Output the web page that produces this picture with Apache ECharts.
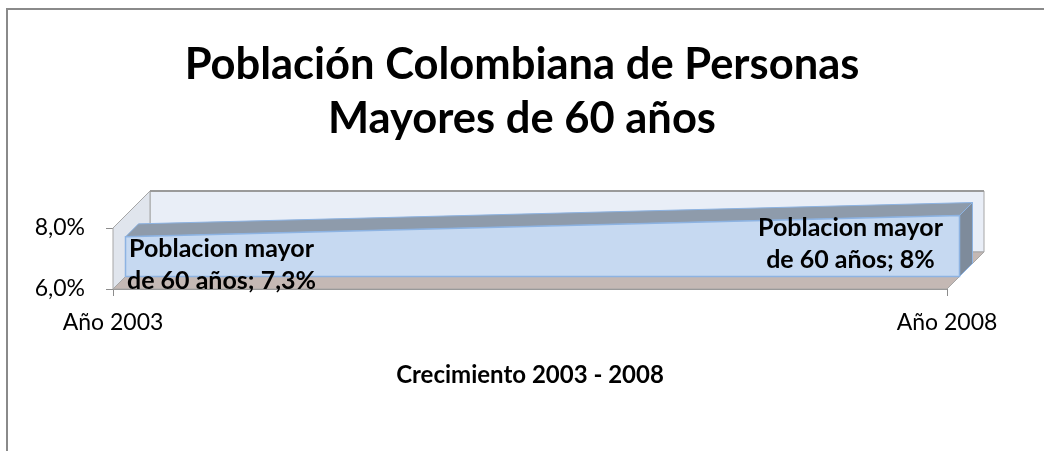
<!DOCTYPE html>
<html>
<head>
<meta charset="utf-8">
<script src="https://cdn.jsdelivr.net/npm/echarts@6/dist/echarts.min.js"></script>
<style>
  html, body { margin: 0; padding: 0; background: #fff; }
  #chart { width: 1044px; height: 451px; }
</style>
</head>
<body>
<div id="chart"></div>
<script>
// Chart values
const categories = ['Año 2003', 'Año 2008'];
const seriesName = 'Poblacion mayor de 60 años';
const values = [7.3, 8];
const yMin = 6;
const yMax = 8;
const yInterval = 2;

const FONT = 'Lato, "Open Sans", sans-serif';

// Depth of the pseudo-3D box and of the area slab inside it (px)
const DEPTH = 37;
const SLAB_FRONT = 12.5;
const SLAB_BACK = 25.5;

function pct(v, digits) {
  const s = digits == null ? String(v) : v.toFixed(digits);
  return s.replace('.', ',') + '%';
}
function off(p, d) { return [p[0] + d, p[1] - d]; }

// Segments between consecutive points of the area
const segments = values.slice(0, -1).map((v, i) => [i, v, i + 1, values[i + 1]]);

const chart = echarts.init(document.getElementById('chart'), null, { renderer: 'canvas' });

const option = {
  backgroundColor: '#ffffff',
  animation: false,
  title: {
    text: 'Población Colombiana de Personas\nMayores de 60 años',
    left: 'center',
    top: 33,
    textStyle: {
      fontFamily: FONT,
      fontWeight: 'bold',
      fontSize: 43.5,
      lineHeight: 54,
      color: '#000'
    }
  },
  graphic: [{
    type: 'rect',
    silent: true,
    shape: { x: 7, y: 9, width: 1100, height: 520 },
    style: { fill: 'none', stroke: '#8a8a8a', lineWidth: 2 },
    z: -10
  }],
  grid: { left: 113, right: 97, top: 228, bottom: 162 },
  xAxis: {
    type: 'category',
    data: categories,
    boundaryGap: false,
    axisLine: { show: true, lineStyle: { color: '#8c8c8c', width: 1 } },
    axisTick: { show: true, length: 7, lineStyle: { color: '#8c8c8c' } },
    axisLabel: { fontFamily: FONT, fontSize: 23, color: '#000', margin: 22 },
    splitLine: { show: false },
    name: 'Crecimiento 2003 - 2008',
    nameLocation: 'middle',
    nameGap: 74,
    nameTextStyle: { fontFamily: FONT, fontWeight: 'bold', fontSize: 24, color: '#000' }
  },
  yAxis: {
    type: 'value',
    min: yMin,
    max: yMax,
    interval: yInterval,
    axisLine: { show: true, lineStyle: { color: '#8c8c8c', width: 1 } },
    axisTick: { show: true, length: 7, lineStyle: { color: '#8c8c8c' } },
    axisLabel: {
      fontFamily: FONT, fontSize: 23, color: '#000', margin: 28,
      formatter: v => pct(v, 1)
    },
    splitLine: { show: false }
  },
  series: [
    {
      // Back wall, side wall and floor
      type: 'custom',
      name: 'walls',
      silent: true,
      z: 1,
      data: [[0]],
      renderItem: function (params, api) {
        const last = categories.length - 1;
        const lt = api.coord([0, yMax]);
        const lb = api.coord([0, yMin]);
        const rb = api.coord([last, yMin]);
        const rt = api.coord([last, yMax]);
        const grey = '#a6a6a6';
        return {
          type: 'group',
          children: [
            {
              type: 'polygon',
              shape: { points: [off(lt, DEPTH), off(rt, DEPTH), off(rb, DEPTH), off(lb, DEPTH)] },
              style: { fill: '#e9eef7', stroke: grey, lineWidth: 1 }
            },
            {
              type: 'polygon',
              shape: { points: [lt, off(lt, DEPTH), off(lb, DEPTH), lb] },
              style: { fill: '#e0e5ed', stroke: grey, lineWidth: 1 }
            },
            {
              type: 'polygon',
              shape: { points: [lb, rb, off(rb, DEPTH), off(lb, DEPTH)] },
              style: { fill: '#c4b8b4', stroke: grey, lineWidth: 1 }
            },
            {
              type: 'line',
              shape: { x1: off(lt, DEPTH)[0], y1: off(lt, DEPTH)[1], x2: off(rt, DEPTH)[0], y2: off(rt, DEPTH)[1] },
              style: { stroke: '#9a9a9a', lineWidth: 2 }
            }
          ]
        };
      }
    },
    {
      // Area slab drawn segment by segment
      type: 'custom',
      name: seriesName,
      z: 3,
      data: segments,
      encode: { x: [0, 2], y: [1, 3] },
      renderItem: function (params, api) {
        const x0 = api.value(0), v0 = api.value(1), x1 = api.value(2), v1 = api.value(3);
        const p0 = api.coord([x0, v0]);
        const p1 = api.coord([x1, v1]);
        const b0 = api.coord([x0, yMin]);
        const b1 = api.coord([x1, yMin]);
        const edge = '#8db3e2';
        const children = [
          {
            type: 'polygon',
            shape: { points: [off(p0, SLAB_FRONT), off(p1, SLAB_FRONT), off(p1, SLAB_BACK), off(p0, SLAB_BACK)] },
            style: { fill: '#8e9bab', stroke: edge, lineWidth: 1 }
          }
        ];
        if (params.dataIndex === segments.length - 1) {
          children.push({
            type: 'polygon',
            shape: { points: [off(p1, SLAB_FRONT), off(p1, SLAB_BACK), off(b1, SLAB_BACK), off(b1, SLAB_FRONT)] },
            style: { fill: '#7e8b9b', stroke: edge, lineWidth: 1 }
          });
        }
        children.push({
          type: 'polygon',
          shape: { points: [off(b0, SLAB_FRONT), off(p0, SLAB_FRONT), off(p1, SLAB_FRONT), off(b1, SLAB_FRONT)] },
          style: { fill: '#c6d9f1', stroke: edge, lineWidth: 1.5 }
        });
        return { type: 'group', children: children };
      }
    },
    {
      // Data labels at each point of the slab's front face
      type: 'custom',
      name: 'labels',
      silent: true,
      z: 4,
      data: values.map((v, i) => [i, v]),
      encode: { x: 0, y: 1 },
      renderItem: function (params, api) {
        const i = api.value(0);
        const v = api.value(1);
        const p = off(api.coord([i, v]), SLAB_FRONT);
        const isLast = params.dataIndex === values.length - 1;
        return {
          type: 'text',
          x: isLast ? p[0] - 109 : p[0] + 96,
          y: p[1] + 28,
          style: {
            text: 'Poblacion mayor\nde 60 años; ' + pct(v),
            fontFamily: FONT,
            fontWeight: 'bold',
            fontSize: 25,
            lineHeight: 32,
            fill: '#000',
            align: 'center',
            verticalAlign: 'middle'
          }
        };
      }
    }
  ]
};

chart.setOption(option);
</script>
</body>
</html>
